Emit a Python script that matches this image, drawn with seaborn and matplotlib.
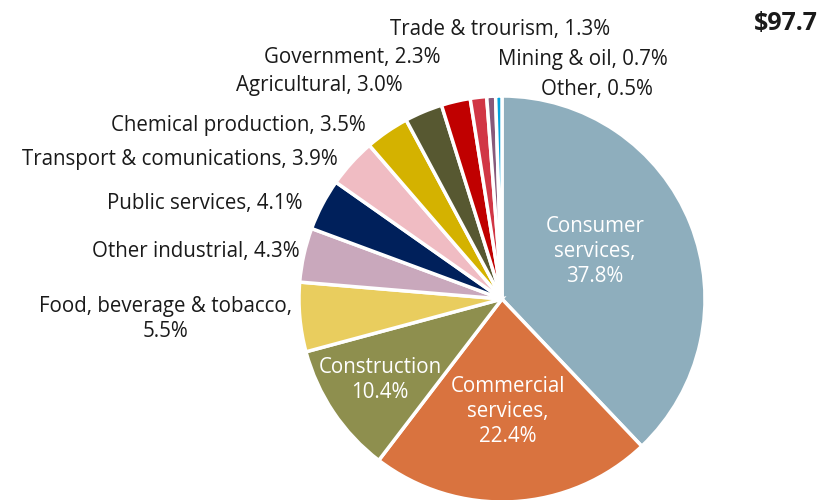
import numpy as np
import seaborn as sns
import matplotlib.pyplot as plt

sectors = ["Consumer services", "Commercial services", "Construction",
           "Food, beverage & tobacco", "Other industrial", "Public services",
           "Transport & comunications", "Chemical production", "Agricultural",
           "Government", "Trade & trourism", "Mining & oil", "Other"]
shares = [37.8, 22.4, 10.4, 5.5, 4.3, 4.1, 3.9, 3.5, 3.0, 2.3, 1.3, 0.7, 0.5]
colors = ["#8EAEBD", "#D9733F", "#8E8F4E", "#E9CD5E", "#C9A8BC", "#00205B",
          "#F0BCC3", "#D4B200", "#575831", "#C00000", "#D13645", "#875A7B",
          "#00A3E0"]
total_label = "$97.7"

# label text, pixel anchor (x, y from top), alignment, colour
label_text = [
    "Consumer\nservices,\n37.8%", "Commercial\nservices,\n22.4%", "Construction\n10.4%",
    "Food, beverage & tobacco,\n5.5%", "Other industrial, 4.3%", "Public services, 4.1%",
    "Transport & comunications, 3.9%", "Chemical production, 3.5%", "Agricultural, 3.0%",
    "Government, 2.3%", "Trade & trourism, 1.3%", "Mining & oil, 0.7%", "Other, 0.5%",
]
label_px = [(595, 252), (508, 412), (380, 380), (165, 319), (300, 252), (302, 203),
            (338, 159), (366, 125), (403, 86), (440, 57), (500, 30), (583, 60), (597, 89)]
label_ha = ["center", "center", "center", "center", "right", "right",
            "right", "right", "right", "right", "center", "center", "center"]
label_col = ["white", "white", "white"] + ["#1a1a1a"] * 10

sns.set_theme(style="white")
plt.rcParams["font.family"] = ["Open Sans", "DejaVu Sans"]

W, H = 830, 500
cx, cy, r = 502, 299, 203

fig = plt.figure(figsize=(W / 100, H / 100), dpi=100)
ax = fig.add_axes([0, 0, 1, 1])
ax.pie(shares, colors=colors, startangle=90, counterclock=False,
       wedgeprops=dict(edgecolor="white", linewidth=2.5))
ax.set_xlim(-cx / r, (W - cx) / r)
ax.set_ylim(-(H - cy) / r, cy / r)
ax.set_aspect("equal")
ax.axis("off")

def to_data(px, py):
    return (px - cx) / r, (cy - py) / r

for txt, (px, py), ha, c in zip(label_text, label_px, label_ha, label_col):
    x, y = to_data(px, py)
    ax.text(x, y, txt, ha=ha, va="center", color=c, fontsize=14.8,
            multialignment="center", linespacing=1.25)

x, y = to_data(754, 23)
ax.text(x, y, total_label, ha="left", va="center", fontsize=18,
        fontweight="bold", color="#1a1a1a")

fig.savefig("out.png", dpi=100)
